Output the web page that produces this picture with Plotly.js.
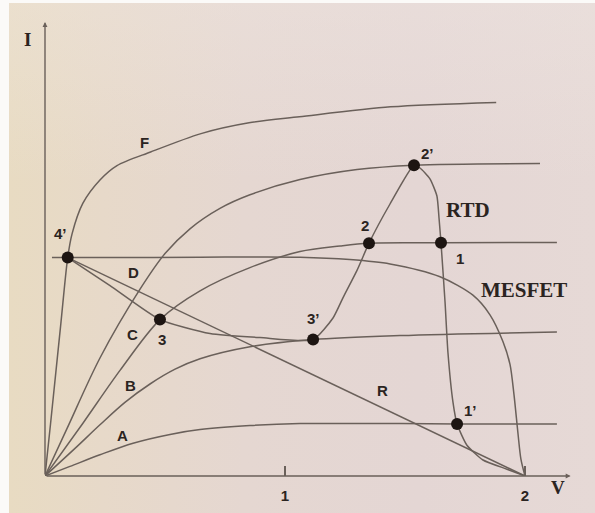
<!DOCTYPE html>
<html>
<head>
<meta charset="utf-8">
<script src="https://cdn.plot.ly/plotly-3.0.1.min.js"></script>
<style>
  html, body { margin: 0; padding: 0; background: #fbfaf8; }
  #page { position: relative; width: 595px; height: 513px; overflow: hidden; }
  #paper {
    position: absolute; left: 9px; top: 3px; right: 0; bottom: 0;
    background:
      linear-gradient(180deg, rgba(240,232,228,0.35) 0%, rgba(240,232,228,0) 35%),
      linear-gradient(90deg, #e8dbc2 0%, #e7d9c9 16%, #e5d7d1 40%, #e4d6d4 70%, #e6d9d6 100%);
  }
  #chart { position: absolute; left: 0; top: 0; width: 595px; height: 513px; }
</style>
</head>
<body>
<div id="page">
  <div id="paper"></div>
  <div id="chart"></div>
</div>
<script>
// I-V characteristics (V in volts, I in arbitrary units)

// transistor output curves A..F
const V_A = [0, 0.104, 0.229, 0.367, 0.521, 0.646, 0.854, 1.0625, 1.479, 1.717, 2.133];
const I_A = [0, 0.24, 0.53, 0.82, 1.04, 1.16, 1.26, 1.31, 1.31, 1.30, 1.30];

const V_B = [0, 0.125, 0.229, 0.333, 0.4375, 0.542, 0.646, 0.854, 1.117, 1.479, 2.133];
const I_B = [0, 0.69, 1.28, 1.84, 2.30, 2.67, 2.93, 3.23, 3.41, 3.51, 3.60];

const V_C = [0, 0.158, 0.3125, 0.479, 0.646, 0.854, 1.0625, 1.229, 1.35, 1.65, 2.133];
const I_C = [0, 1.32, 2.64, 3.91, 4.63, 5.21, 5.61, 5.75, 5.82, 5.83, 5.84];

const V_D = [0, 0.092, 0.229, 0.396, 0.5, 0.604, 0.729, 0.854, 1.0625, 1.30, 1.5375, 2.0625];
const I_D = [0, 1.19, 2.95, 4.67, 5.56, 6.18, 6.69, 7.03, 7.41, 7.66, 7.77, 7.81];

const V_F = [0, 0.023, 0.066, 0.0946, 0.113, 0.158, 0.229, 0.30, 0.44, 0.65, 0.85, 1.06, 1.44, 1.88];
const I_F = [0, 1.30, 3.81, 5.46, 6.06, 6.82, 7.40, 7.76, 8.10, 8.56, 8.83, 8.98, 9.23, 9.34];

// load characteristics
const V_R = [0.0946, 2.0];
const I_R = [5.46, 0];

const V_MESFET = [0.029, 0.229, 0.646, 1.0625, 1.27, 1.4375, 1.646, 1.783, 1.854, 1.908, 1.9375, 1.954, 1.971, 1.983, 2.0];
const I_MESFET = [5.46, 5.46, 5.47, 5.47, 5.41, 5.30, 4.98, 4.52, 4.03, 3.36, 2.79, 2.04, 1.05, 0.42, 0];

const V_RTD = [0.0946, 0.271, 0.479, 0.6875, 0.896, 1.117, 1.2, 1.242, 1.3, 1.35, 1.4375, 1.5375,
               1.5625, 1.604, 1.633, 1.642, 1.65, 1.667, 1.679, 1.70, 1.717, 1.758, 1.825, 1.925, 2.0];
const I_RTD = [5.46, 4.76, 3.91, 3.56, 3.46, 3.41, 3.95, 4.46, 5.14, 5.82, 6.80, 7.77,
               7.70, 7.43, 7.00, 6.43, 5.83, 4.33, 3.08, 1.84, 1.30, 0.77, 0.40, 0.17, 0];

// operating points
const ptLabels = ["4’", "3", "3’", "2", "2’", "1", "1’"];
const ptV = [0.0946, 0.479, 1.117, 1.35, 1.5375, 1.65, 1.717];
const ptI = [5.46, 3.91, 3.41, 5.82, 7.77, 5.83, 1.30];

// curve names placed beside the curves
const curveLabels = ["F", "D", "C", "B", "A", "R", "RTD", "MESFET"];
const curveLabelV = [0.4125, 0.367, 0.3625, 0.358, 0.321, 1.408, 1.7625, 1.996];
const curveLabelI = [8.35, 5.10, 3.54, 2.27, 1.02, 2.15, 6.65, 4.65];

// point names placed beside the dots
const pointTagV = [0.0625, 0.4875, 1.117, 1.333, 1.592, 1.729, 1.771];
const pointTagI = [6.06, 3.41, 3.94, 6.27, 8.07, 5.44, 1.65];

const tickVals = [1, 2];
const tickText = ["1", "2"];

const lineColor = "#6a605a";
const inkColor = "#2b2421";

function curve(x, y, smoothing) {
  return {
    x: x, y: y, type: "scatter", mode: "lines", hoverinfo: "skip",
    line: { color: lineColor, width: 1.5, shape: "spline", smoothing: smoothing }
  };
}

const traces = [
  curve(V_A, I_A, 0.9),
  curve(V_B, I_B, 0.9),
  curve(V_C, I_C, 0.9),
  curve(V_D, I_D, 0.9),
  curve(V_F, I_F, 0.8),
  { x: V_R, y: I_R, type: "scatter", mode: "lines", hoverinfo: "skip",
    line: { color: lineColor, width: 1.5 } },
  curve(V_MESFET, I_MESFET, 0.8),
  curve(V_RTD, I_RTD, 0.55),
  { x: ptV, y: ptI, type: "scatter", mode: "markers", text: ptLabels, hoverinfo: "text",
    cliponaxis: false,
    marker: { color: "#1d1512", size: 12, line: { width: 0 } } }
];

const annotations = [];
const sansFont = { family: "Liberation Sans, Arial, sans-serif", size: 15, color: inkColor };
const serifFont = { family: "Liberation Serif, Times New Roman, serif", size: 21, color: inkColor };
const axisTitleFont = { family: "Liberation Serif, Times New Roman, serif", size: 19, color: inkColor };

curveLabels.forEach((t, i) => {
  const big = (t === "RTD" || t === "MESFET");
  annotations.push({
    x: curveLabelV[i], y: curveLabelI[i], xref: "x", yref: "y",
    text: "<b>" + t + "</b>", showarrow: false,
    font: big ? serifFont : sansFont
  });
});
ptLabels.forEach((t, i) => {
  annotations.push({
    x: pointTagV[i], y: pointTagI[i], xref: "x", yref: "y",
    text: "<b>" + t + "</b>", showarrow: false, font: sansFont
  });
});

// axis titles, placed in paper coordinates outside the plotting area
annotations.push({ x: -0.0436, y: 0.985, xref: "paper", yref: "paper", text: "<b>I</b>",
  showarrow: false, font: axisTitleFont });
annotations.push({ x: 0.9886, y: -0.0526, xref: "paper", yref: "paper", text: "<b>V</b>",
  showarrow: false, font: axisTitleFont });

// axis arrows
annotations.push({ x: 2.19, y: 0, ax: 0, ay: 0, xref: "x", yref: "y", axref: "x", ayref: "y",
  text: "", showarrow: true, arrowhead: 2, arrowsize: 0.7, arrowwidth: 1.4, arrowcolor: lineColor });
annotations.push({ x: 0, y: 11.35, ax: 0, ay: 0, xref: "x", yref: "y", axref: "x", ayref: "y",
  text: "", showarrow: true, arrowhead: 2, arrowsize: 0.7, arrowwidth: 1.4, arrowcolor: lineColor });

const layout = {
  width: 595, height: 513,
  margin: { l: 45, r: 22, t: 20, b: 37 },
  paper_bgcolor: "rgba(0,0,0,0)",
  plot_bgcolor: "rgba(0,0,0,0)",
  showlegend: false,
  xaxis: {
    range: [0, 2.2], showgrid: false, zeroline: false, showline: false,
    tickmode: "array", tickvals: tickVals, ticktext: tickText,
    ticks: "inside", ticklen: 10, tickwidth: 1.3, tickcolor: lineColor,
    ticklabelstandoff: 9,
    tickfont: { family: "Liberation Sans, Arial, sans-serif", size: 15, color: inkColor, weight: "bold" },
    automargin: false, fixedrange: true
  },
  yaxis: {
    range: [0, 11.4], showgrid: false, zeroline: false, showline: false,
    showticklabels: false, ticks: "", automargin: false, fixedrange: true
  },
  annotations: annotations
};

Plotly.newPlot("chart", traces, layout, { displayModeBar: false, staticPlot: true });
</script>
</body>
</html>
